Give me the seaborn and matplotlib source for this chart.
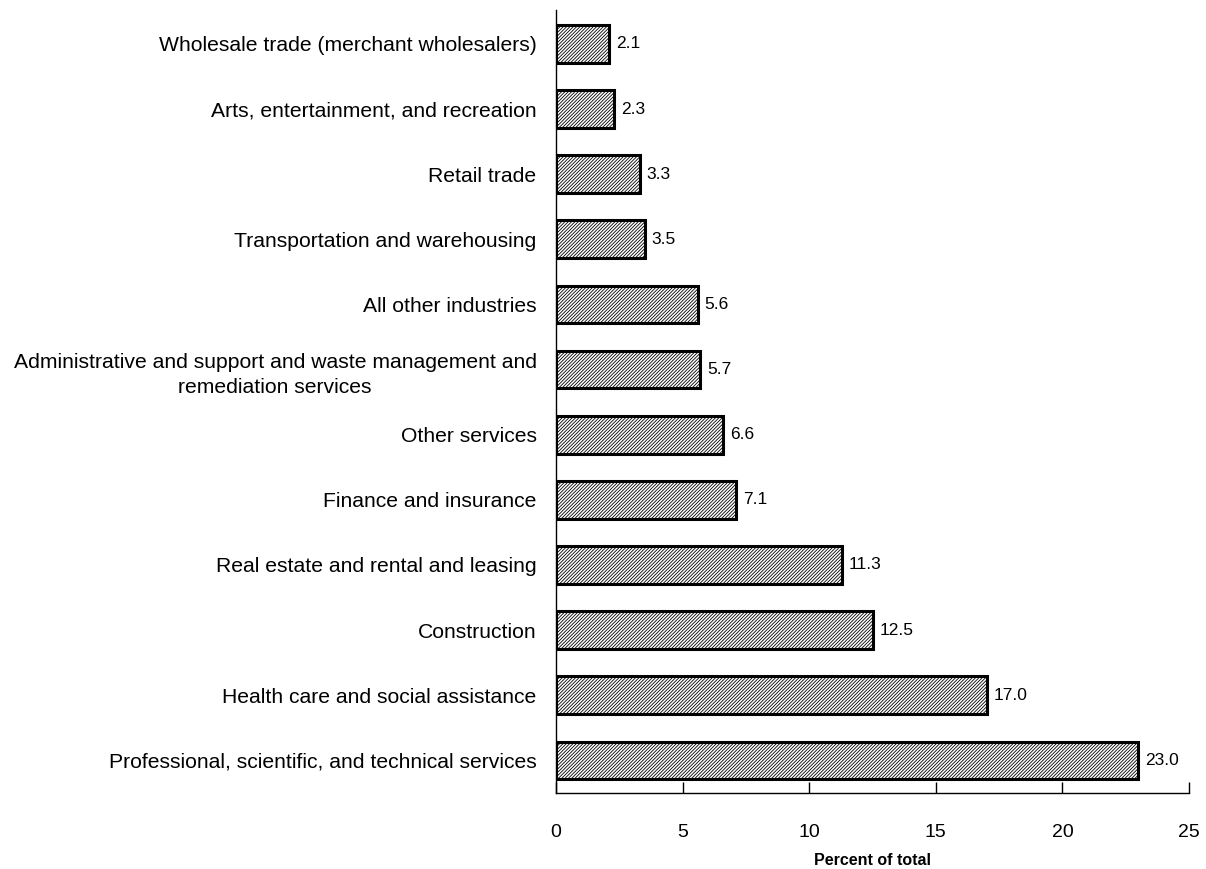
import matplotlib
matplotlib.use("Agg")
import matplotlib.pyplot as plt
import seaborn as sns
import pandas as pd

categories = [
    "Wholesale trade (merchant wholesalers)",
    "Arts, entertainment, and recreation",
    "Retail trade",
    "Transportation and warehousing",
    "All other industries",
    "Administrative and support and waste management and\nremediation services",
    "Other services",
    "Finance and insurance",
    "Real estate and rental and leasing",
    "Construction",
    "Health care and social assistance",
    "Professional, scientific, and technical services",
]
values = [2.1, 2.3, 3.3, 3.5, 5.6, 5.7, 6.6, 7.1, 11.3, 12.5, 17.0, 23.0]
xticks = [0, 5, 10, 15, 20, 25]

sns.set_theme(style="white")
plt.rcParams['font.family'] = ['Liberation Sans', 'DejaVu Sans']
plt.rcParams['hatch.linewidth'] = 0.6
plt.rcParams['text.color'] = 'black'
plt.rcParams['xtick.color'] = 'black'
plt.rcParams['ytick.color'] = 'black'
plt.rcParams['axes.labelcolor'] = 'black'

df = pd.DataFrame({"industry": categories, "pct": values})

fig = plt.figure(figsize=(12.06, 8.69), dpi=100)
ax = fig.add_axes([0.461, 0.0875, 0.525, 0.901])
sns.barplot(data=df, x="pct", y="industry", order=categories, orient="h",
            color="white", width=0.58, ax=ax, edgecolor="black", linewidth=2.2)
for p in ax.patches:
    p.set_hatch("/" * 10)
    p.set_facecolor("white")
    p.set_edgecolor("black")

for i, v in enumerate(values):
    ax.annotate(f"{v:.1f}", xy=(v, i), xytext=(5, 0), textcoords="offset points",
                va="center", ha="left", fontsize=12.5, color="black")

ax.set_xlim(0, 25)
ax.set_ylim(11.5, -0.52)
ax.set_xticks(xticks)
ax.set_xticklabels([str(t) for t in xticks], fontsize=14)
ax.tick_params(axis="x", bottom=True, direction="in", length=8, width=1,
               color="black", pad=22)
ax.tick_params(axis="y", left=False, length=0, pad=14, labelsize=15.2)
for lbl in ax.get_yticklabels():
    lbl.set_multialignment("center")
    lbl.set_linespacing(1.45)
ax.set_ylabel("")
ax.set_xlabel("Percent of total", fontsize=11.5, fontweight="bold", labelpad=9)
for s in ["top", "right"]:
    ax.spines[s].set_visible(False)
for s in ["left", "bottom"]:
    ax.spines[s].set_color("black")
    ax.spines[s].set_linewidth(1)
ax.grid(False)

fig.savefig("out.png", dpi=100)
